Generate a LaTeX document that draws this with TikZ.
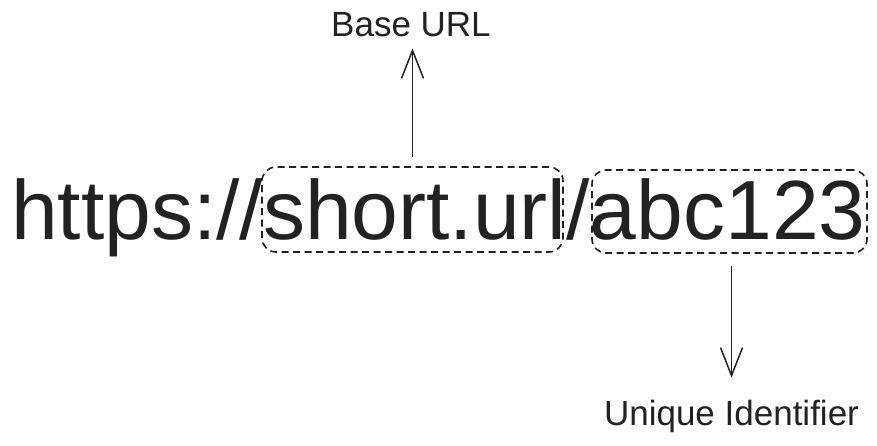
\documentclass[tikz,border=0pt]{standalone}
\usepackage{fontspec}
\setmainfont{Liberation Sans}
\usetikzlibrary{arrows.meta,positioning}
\definecolor{inkgray}{HTML}{222222}
\tikzset{
	urlpart/.style={inner sep=0pt,outer sep=0pt,anchor=base west,text=inkgray,font=\fontsize{84}{90}\selectfont},
	partbox/.style={draw=inkgray,dash pattern=on 7pt off 4.5pt,line width=1.6pt,rounded corners=14pt,inner sep=0pt},
	partlabel/.style={inner sep=0pt,outer sep=0pt,anchor=base,text=inkgray,font=\fontsize{35}{38}\selectfont},
	pointer/.style={draw=inkgray,line width=1.5pt,-{Straight Barb[length=28pt,width=22pt,line width=1.5pt]}}
}
\begin{document}
\begin{tikzpicture}[x=1pt,y=1pt]
		\useasboundingbox (0,0) rectangle (877,445);
		\node[urlpart] (scheme) at (11,206) {https://};
		\node[urlpart] (host) at (scheme.base east) {short.url};
		\node[urlpart] (slash) at (host.base east) {/};
		\node[urlpart] (code) at (slash.base east) {abc123};
		\node[partbox,minimum width=301pt,minimum height=85pt] (hostbox) at (412.5,235.5) {};
		\node[partbox,minimum width=275pt,minimum height=83pt] (codebox) at (729.5,233.5) {};
		\node[partlabel] (baselabel) at (411,408) {Base URL};
		\node[partlabel] (idlabel) at (731.5,20) {Unique Identifier};
		\draw[pointer,shorten <=9pt,shorten >=11pt] (hostbox.north) -- (hostbox.north |- baselabel.south);
		\draw[pointer,shorten <=12pt,shorten >=22pt] (codebox.south -| idlabel.north) -- (idlabel.north);
	\end{tikzpicture}
\end{document}
